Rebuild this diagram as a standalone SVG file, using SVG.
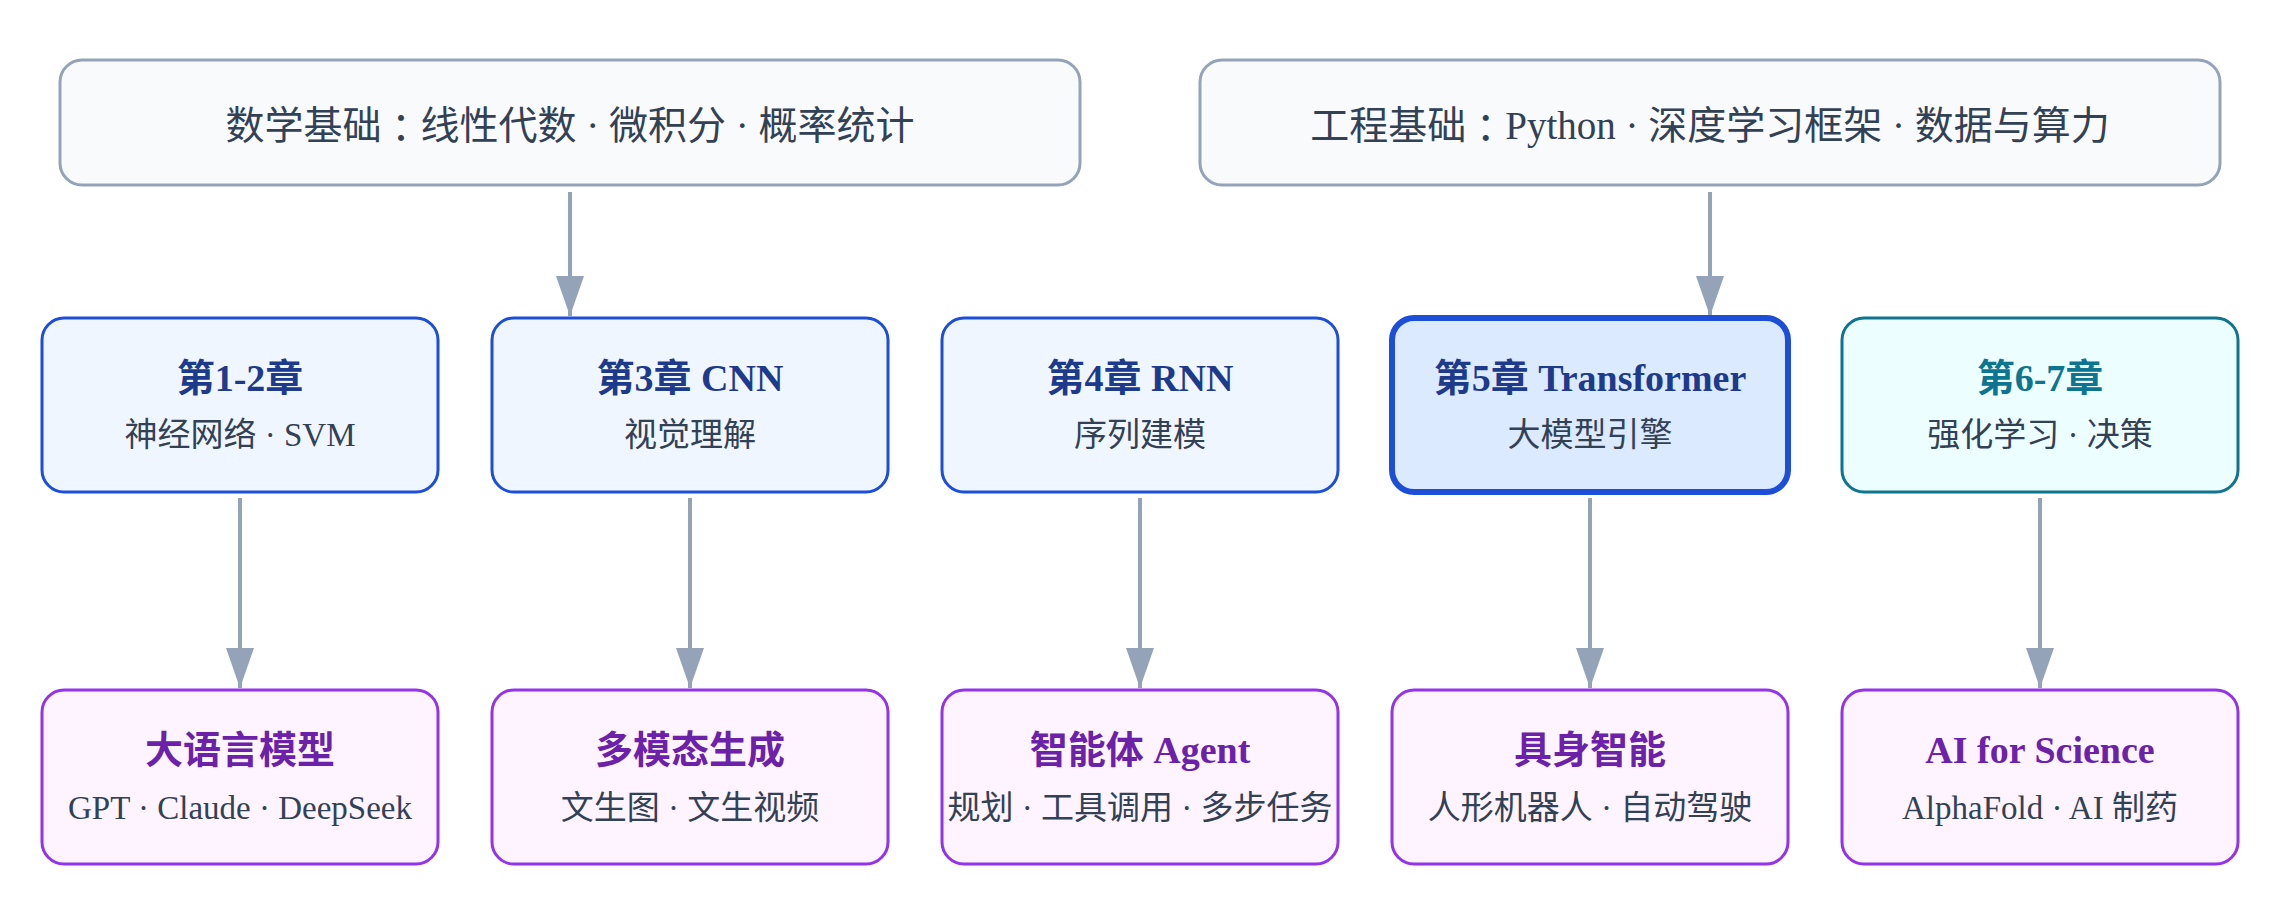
<svg xmlns="http://www.w3.org/2000/svg" width="2280" height="900" viewBox="0 0 2280 900">
<defs>
<style>
text{font-family:"Liberation Serif","Noto Sans CJK SC",serif;text-anchor:middle;dominant-baseline:central}
.base rect{fill:#f8fafc;stroke:#94a3b8;stroke-width:3}
.base text{font-size:39px;fill:#334155}
.cl{font-family:"Noto Sans CJK TC",sans-serif}
.ch rect{fill:#eff6ff;stroke:#1d4ed8;stroke-width:3}
.ch .t{font-size:38px;font-weight:bold;fill:#1e3a8a}
.hi rect{fill:#dbeafe;stroke:#1d4ed8;stroke-width:6}
.rl rect{fill:#ecfeff;stroke:#0e7490;stroke-width:3}
.rl .t{font-size:38px;font-weight:bold;fill:#0e7490}
.app rect{fill:#fdf4ff;stroke:#9333ea;stroke-width:3}
.app .t{font-size:38px;font-weight:bold;fill:#6b21a8}
.s{font-size:33px;fill:#334155}
.conn line{stroke:#94a3b8;stroke-width:4;fill:none}
</style>
<marker id="ah" viewBox="0 0 40 28" refX="40" refY="14" markerWidth="40" markerHeight="28" markerUnits="userSpaceOnUse" orient="auto">
<path d="M0,0 L40,14 L0,28 Z" fill="#94a3b8"/>
</marker>
</defs>
<rect width="2280" height="900" fill="#ffffff"/>
<g id="connectors" class="conn">
<line x1="570" y1="192" x2="570" y2="316" marker-end="url(#ah)"/>
<line x1="1710" y1="192" x2="1710" y2="316" marker-end="url(#ah)"/>
<line x1="240" y1="498" x2="240" y2="688" marker-end="url(#ah)"/>
<line x1="690" y1="498" x2="690" y2="688" marker-end="url(#ah)"/>
<line x1="1140" y1="498" x2="1140" y2="688" marker-end="url(#ah)"/>
<line x1="1590" y1="498" x2="1590" y2="688" marker-end="url(#ah)"/>
<line x1="2040" y1="498" x2="2040" y2="688" marker-end="url(#ah)"/>
</g>
<g id="math" class="base">
<rect x="60" y="60" width="1020" height="125" rx="22"/>
<text x="570" y="125">数学基础<tspan class="cl">：</tspan>线性代数 · 微积分 · 概率统计</text>
</g>
<g id="eng" class="base">
<rect x="1200" y="60" width="1020" height="125" rx="22"/>
<text x="1710" y="125">工程基础<tspan class="cl">：</tspan>Python · 深度学习框架 · 数据与算力</text>
</g>
<g id="ch12" class="ch">
<rect x="42" y="318" width="396" height="174" rx="22"/>
<text class="t" x="240" y="378">第1-2章</text>
<text class="s" x="240" y="435">神经网络 · SVM</text>
</g>
<g id="ch3" class="ch">
<rect x="492" y="318" width="396" height="174" rx="22"/>
<text class="t" x="690" y="378">第3章 CNN</text>
<text class="s" x="690" y="435">视觉理解</text>
</g>
<g id="ch4" class="ch">
<rect x="942" y="318" width="396" height="174" rx="22"/>
<text class="t" x="1140" y="378">第4章 RNN</text>
<text class="s" x="1140" y="435">序列建模</text>
</g>
<g id="ch5" class="ch hi">
<rect x="1392" y="318" width="396" height="174" rx="22"/>
<text class="t" x="1590" y="378">第5章 Transformer</text>
<text class="s" x="1590" y="435">大模型引擎</text>
</g>
<g id="ch67" class="rl">
<rect x="1842" y="318" width="396" height="174" rx="22"/>
<text class="t" x="2040" y="378">第6-7章</text>
<text class="s" x="2040" y="435">强化学习 · 决策</text>
</g>
<g id="llm" class="app">
<rect x="42" y="690" width="396" height="174" rx="22"/>
<text class="t" x="240" y="750">大语言模型</text>
<text class="s" x="240" y="808">GPT · Claude · DeepSeek</text>
</g>
<g id="mm" class="app">
<rect x="492" y="690" width="396" height="174" rx="22"/>
<text class="t" x="690" y="750">多模态生成</text>
<text class="s" x="690" y="808">文生图 · 文生视频</text>
</g>
<g id="agent" class="app">
<rect x="942" y="690" width="396" height="174" rx="22"/>
<text class="t" x="1140" y="750">智能体 Agent</text>
<text class="s" x="1140" y="808">规划 · 工具调用 · 多步任务</text>
</g>
<g id="embodied" class="app">
<rect x="1392" y="690" width="396" height="174" rx="22"/>
<text class="t" x="1590" y="750">具身智能</text>
<text class="s" x="1590" y="808">人形机器人 · 自动驾驶</text>
</g>
<g id="ai4s" class="app">
<rect x="1842" y="690" width="396" height="174" rx="22"/>
<text class="t" x="2040" y="750">AI for Science</text>
<text class="s" x="2040" y="808">AlphaFold · AI 制药</text>
</g>
</svg>
